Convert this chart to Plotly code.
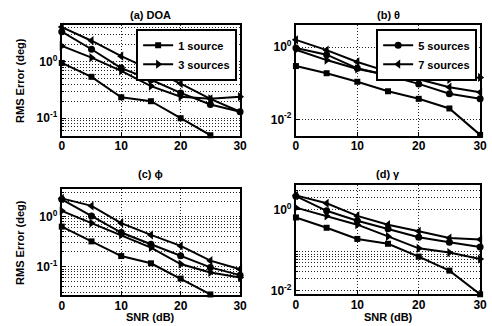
import math
import plotly.graph_objects as go

snr = [0, 5, 10, 15, 20, 25, 30]
series_names = ["1 source", "3 sources", "5 sources", "7 sources"]
symbols = ["square", "triangle-right", "circle", "triangle-left"]
msizes = [6, 8, 7, 8]

# (a) DOA
doa = {
    "1 source": [0.95, 0.54, 0.235, 0.20, 0.10, 0.05, None],
    "3 sources": [1.9, 1.18, 0.69, 0.37, 0.24, 0.22, 0.24],
    "5 sources": [3.4, 1.66, 0.77, 0.48, 0.28, 0.175, 0.13],
    "7 sources": [4.1, 2.35, 1.25, 0.72, 0.41, 0.22, 0.13],
}
# (b) theta
theta = {
    "1 source": [0.30, 0.19, 0.11, 0.06, 0.037, 0.020, 0.0037],
    "3 sources": [0.85, 0.44, 0.25, 0.17, 0.13, 0.128, 0.145],
    "5 sources": [0.95, 0.62, 0.26, 0.165, 0.096, 0.051, 0.037],
    "7 sources": [1.6, 0.83, 0.39, 0.21, 0.13, 0.078, 0.056],
}
# (c) phi
phi = {
    "1 source": [0.63, 0.32, 0.163, 0.117, 0.058, 0.028, None],
    "3 sources": [1.3, 0.74, 0.43, 0.24, 0.113, 0.077, 0.061],
    "5 sources": [2.2, 1.03, 0.48, 0.28, 0.166, 0.097, 0.068],
    "7 sources": [2.3, 1.63, 0.74, 0.43, 0.26, 0.132, 0.089],
}
# (d) gamma
gamma = {
    "1 source": [0.65, 0.36, 0.19, 0.144, 0.069, 0.031, 0.008],
    "3 sources": [1.14, 0.71, 0.43, 0.22, 0.111, 0.087, 0.06],
    "5 sources": [2.2, 0.95, 0.54, 0.34, 0.21, 0.158, 0.12],
    "7 sources": [2.3, 1.46, 0.71, 0.43, 0.295, 0.20, 0.184],
}

panels = [
    dict(title="(a) DOA", data=doa, yr=(0.049, 4.5),
         yt=[0.1, 1], ytt=["10<sup>-1</sup>", "10<sup>0</sup>"],
         minor=[0.06, 0.07, 0.08, 0.09, 0.2, 0.3, 0.4, 0.5, 0.6, 0.7, 0.8, 0.9, 2, 3, 4],
         dx=(60, 242), dy=(25, 137), ty=15, legend="legend", show=["1 source", "3 sources"]),
    dict(title="(b) θ", data=theta, yr=(0.0035, 4.2),
         yt=[0.01, 1], ytt=["10<sup>-2</sup>", "10<sup>0</sup>"],
         minor=[],
         dx=(299, 487), dy=(25, 137), ty=15, legend="legend2", show=["5 sources", "7 sources"]),
    dict(title="(c) ϕ", data=phi, yr=(0.027, 3.5),
         yt=[0.1, 1], ytt=["10<sup>-1</sup>", "10<sup>0</sup>"],
         minor=[0.03, 0.04, 0.05, 0.06, 0.07, 0.08, 0.09, 0.2, 0.3, 0.4, 0.5, 0.6, 0.7, 0.8, 0.9, 2, 3],
         dx=(60, 242), dy=(191, 298), ty=176, legend=None, show=[]),
    dict(title="(d) γ", data=gamma, yr=(0.008, 4.1),
         yt=[0.01, 1], ytt=["10<sup>-2</sup>", "10<sup>0</sup>"],
         minor=[0.02, 0.03, 0.04, 0.05, 0.06, 0.07, 0.08, 0.09, 2, 3],
         dx=(299, 487), dy=(187, 297), ty=176, legend=None, show=[]),
]

W, H = 492, 326
FONT = "Liberation Sans"
fig = go.Figure()
layout = dict(width=W, height=H, margin=dict(l=0, r=0, t=0, b=0),
              paper_bgcolor="white", plot_bgcolor="white",
              font=dict(family=FONT, size=12, color="black", weight="bold"),
              annotations=[])

GRID = dict(showgrid=True, gridcolor="#222", gridwidth=1, griddash="1px,2px")

for i, p in enumerate(panels):
    n = "" if i == 0 else str(i + 1)
    xa, ya = "x" + n, "y" + n
    for k, name in enumerate(series_names):
        showleg = name in p["show"]
        tr = dict(x=snr, y=p["data"][name], xaxis=xa, yaxis=ya, name=name,
                  mode="lines+markers", cliponaxis=False,
                  line=dict(color="black", width=2),
                  marker=dict(symbol=symbols[k], size=msizes[k], color="black"),
                  showlegend=showleg)
        if showleg:
            tr["legend"] = p["legend"]
        fig.add_trace(go.Scatter(**tr))
    x0, x1 = p["dx"][0] / W, p["dx"][1] / W
    y0, y1 = 1 - p["dy"][1] / H, 1 - p["dy"][0] / H
    layout["xaxis" + n] = dict(domain=[x0, x1], anchor=ya, range=[0, 30],
                               tickvals=[0, 10, 20, 30], ticks="inside", ticklen=4,
                               tickwidth=1, tickcolor="black", ticklabelstandoff=-2,
                               showline=True, linecolor="black", linewidth=2, mirror=True,
                               zeroline=False, tickfont=dict(size=12, weight="bold"),
                               **GRID)
    yax = dict(domain=[y0, y1], anchor=xa, type="log",
               range=[math.log10(p["yr"][0]), math.log10(p["yr"][1])],
               tickmode="array", tickvals=p["yt"], ticktext=p["ytt"],
               ticks="inside", ticklen=4, tickwidth=1, tickcolor="black",
               showline=True, linecolor="black", linewidth=2, mirror=True,
               zeroline=False, tickfont=dict(size=12, weight="bold"), **GRID)
    if p["minor"]:
        yax["minor"] = dict(tickmode="array", tickvals=p["minor"], showgrid=True,
                            gridcolor="#222", gridwidth=1, griddash="1px,2px",
                            ticks="inside", ticklen=2, tickcolor="black")
    layout["yaxis" + n] = yax
    layout["annotations"].append(dict(
        text=p["title"], x=(x0 + x1) / 2, y=1 - p["ty"] / H, xref="paper", yref="paper",
        xanchor="center", yanchor="middle", showarrow=False,
        font=dict(size=11, weight="bold")))
    if i in (0, 2):
        layout["annotations"].append(dict(
            text="RMS Error (deg)", x=18 / W, y=(y0 + y1) / 2, xref="paper", yref="paper",
            xanchor="center", yanchor="middle", textangle=-90, showarrow=False,
            font=dict(size=11, weight="bold")))
    if i in (2, 3):
        layout["annotations"].append(dict(
            text="SNR (dB)", x=(x0 + x1) / 2, y=1 - 320 / H, xref="paper", yref="paper",
            xanchor="center", yanchor="middle", showarrow=False,
            font=dict(size=11, weight="bold")))

leg = dict(xanchor="right", yanchor="top", bgcolor="white", bordercolor="black",
           borderwidth=2, font=dict(size=11, weight="bold"), itemwidth=30,
           tracegroupgap=0)
layout["legend"] = dict(x=239 / W, y=1 - 29 / H, **leg)
layout["legend2"] = dict(x=484 / W, y=1 - 29 / H, **leg)

fig.update_layout(**layout)
fig.write_html("out.html")
